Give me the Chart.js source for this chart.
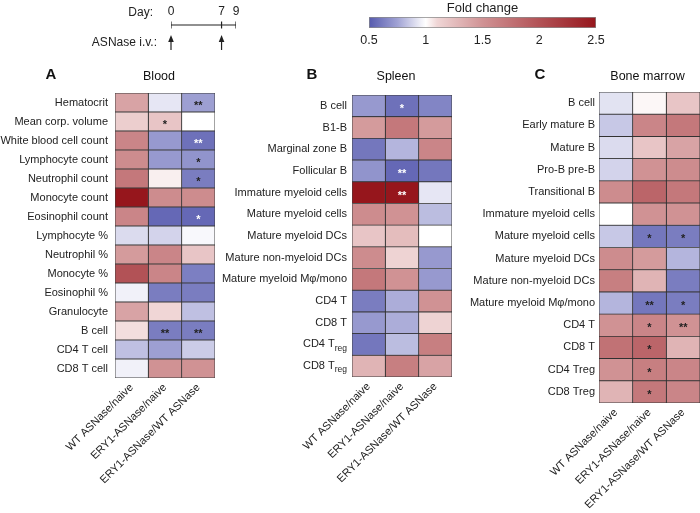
<!DOCTYPE html>
<html><head><meta charset="utf-8">
<script src="https://cdn.jsdelivr.net/npm/chart.js@4.4.1/dist/chart.umd.min.js"></script>
<style>
html,body{margin:0;padding:0;background:#fff;}
#wrap{position:relative;width:700px;height:513px;overflow:hidden;background:#fff;}
canvas{position:absolute;}
</style></head><body>
<div id="wrap">
<canvas id="tl" width="260" height="60" style="left:0px;top:0px;width:260px;height:60px"></canvas>
<canvas id="cb" width="290" height="55" style="left:340px;top:0px;width:290px;height:55px"></canvas>
<canvas id="hA" width="222" height="453" style="left:0px;top:60px;width:222px;height:453px"></canvas>
<canvas id="hB" width="241" height="453" style="left:216px;top:60px;width:241px;height:453px"></canvas>
<canvas id="hC" width="238" height="453" style="left:462px;top:60px;width:238px;height:453px"></canvas>
</div>
<script>
// ---------------- DATA ----------------
const timelineDays = [0, 7, 9];
const injectionDays = [0, 7];
const colorbarTicks = [0.5, 1, 1.5, 2, 2.5];
const colLabels = ["WT ASNase/naive", "ERY1-ASNase/naive", "ERY1-ASNase/WT ASNase"];

const bloodRows = ["Hematocrit","Mean corp. volume","White blood cell count","Lymphocyte count","Neutrophil count","Monocyte count","Eosinophil count","Lymphocyte %","Neutrophil %","Monocyte %","Eosinophil %","Granulocyte","B cell","CD4 T cell","CD8 T cell"];
const bloodWT    = [1.4, 1.15, 1.6, 1.55, 1.7, 2.5, 1.6, 0.9, 1.45, 2.0, 0.96, 1.4, 1.08, 0.83, 0.96];
const bloodERY1  = [0.93, 1.2, 0.72, 0.72, 1.04, 1.55, 0.55, 0.88, 1.6, 1.6, 0.62, 1.1, 0.62, 0.74, 1.5];
const bloodRatio = [0.74, 1.0, 0.58, 0.7, 0.62, 1.55, 0.55, 0.98, 1.2, 0.63, 0.62, 0.83, 0.62, 0.86, 1.5];
const bloodStars = [["","","**"],["","*",""],["","","**"],["","","*"],["","","*"],["","",""],["","","*"],["","",""],["","",""],["","",""],["","",""],["","",""],["","**","**"],["","",""],["","",""]];
const bloodLightStars = [[2,2],[6,2]];

const spleenRows = ["B cell","B1-B","Marginal zone B","Follicular B","Immature myeloid cells","Mature myeloid cells","Mature myeloid DCs","Mature non-myeloid DCs","Mature myeloid M\u03c6/mono","CD4 T","CD8 T","CD4 T_reg","CD8 T_reg"];
const spleenWT    = [0.72, 1.45, 0.6, 0.7, 2.5, 1.55, 1.2, 1.55, 1.7, 0.62, 0.72, 0.6, 1.3];
const spleenERY1  = [0.58, 1.7, 0.8, 0.55, 2.5, 1.5, 1.25, 1.12, 1.5, 0.78, 0.78, 0.82, 1.65];
const spleenRatio = [0.65, 1.45, 1.6, 0.6, 0.93, 0.82, 1.0, 0.72, 0.72, 1.5, 1.12, 1.65, 1.4];
const spleenStars = [["","*",""],["","",""],["","",""],["","**",""],["","**",""],["","",""],["","",""],["","",""],["","",""],["","",""],["","",""],["","",""],["","",""]];
const spleenLightStars = [[0,1],[3,1],[4,1]];

const bmRows = ["B cell","Early mature B","Mature B","Pro-B pre-B","Transitional B","Immature myeloid cells","Mature myeloid cells","Mature myeloid DCs","Mature non-myeloid DCs","Mature myeloid M\u03c6/mono","CD4 T","CD8 T","CD4 Treg","CD8 Treg"];
const bmWT    = [0.92, 0.85, 0.9, 0.88, 1.55, 1.0, 0.85, 1.55, 1.65, 0.8, 1.5, 1.75, 1.5, 1.3];
const bmERY1  = [1.02, 1.6, 1.2, 1.5, 1.85, 1.5, 0.6, 1.45, 1.3, 0.6, 1.6, 1.85, 1.65, 1.7];
const bmRatio = [1.2, 1.7, 1.4, 1.55, 1.7, 1.5, 0.62, 0.8, 0.62, 0.62, 1.5, 1.3, 1.6, 1.6];
const bmStars = [["","",""],["","",""],["","",""],["","",""],["","",""],["","",""],["","*","*"],["","",""],["","",""],["","**","*"],["","*","**"],["","*",""],["","*",""],["","*",""]];
const bmLightStars = [];

// ---------------- STYLE ----------------
const FONT = "'Liberation Sans', Arial, Helvetica, sans-serif";
Chart.defaults.font.family = FONT;
Chart.defaults.color = '#222';
Chart.defaults.animation = false;
Chart.defaults.plugins.legend.display = false;
Chart.defaults.plugins.tooltip.enabled = false;

const colorStops = [
  [0.5, [86, 90, 174]], [0.75, [160, 162, 212]], [0.95, [238, 238, 247]], [1.0, [255, 255, 255]],
  [1.1, [240, 214, 214]], [1.5, [208, 146, 148]], [2.0, [178, 82, 86]], [2.5, [150, 22, 28]]
];
function rgb(c){ return 'rgb(' + c.map(Math.round).join(',') + ')'; }
function foldColor(v){
  if (v <= colorStops[0][0]) return rgb(colorStops[0][1]);
  for (let i = 1; i < colorStops.length; i++){
    const [v1, c1] = colorStops[i];
    if (v <= v1){
      const [v0, c0] = colorStops[i-1];
      const t = (v - v0) / (v1 - v0);
      return rgb(c0.map((x, k) => x + (c1[k] - x) * t));
    }
  }
  return rgb(colorStops[colorStops.length-1][1]);
}

// ---------------- HEATMAPS ----------------
function heatmap(id, rows, cols, stars, lightStars, title, letter, L){
  const panelPlugin = {
    id: 'panel_' + id,
    afterDraw(chart){
      const ctx = chart.ctx, ca = chart.chartArea, ys = chart.scales.y;
      ctx.save();
      ctx.fillStyle = '#111';
      ctx.font = 'bold 15px ' + FONT;
      ctx.textAlign = 'center'; ctx.textBaseline = 'middle';
      ctx.fillText(letter, L.letterX, L.letterY);
      ctx.font = '12.5px ' + FONT;
      ctx.fillText(title, (ca.left + ca.right) / 2 + L.titleDx, L.titleY);
      ctx.fillStyle = '#222';
      ctx.textAlign = 'right';
      rows.forEach((r, i) => {
        const y = ys.getPixelForValue(i);
        const x = ca.left - L.gap;
        const parts = r.split('_');
        if (parts.length > 1){
          ctx.font = '8.5px ' + FONT;
          const w = ctx.measureText(parts[1]).width;
          ctx.fillText(parts[1], x, y + 4);
          ctx.font = '11px ' + FONT;
          ctx.fillText(parts[0], x - w, y);
        } else {
          ctx.font = '11px ' + FONT;
          ctx.fillText(r, x, y);
        }
      });
      ctx.textAlign = 'center';
      ctx.font = 'bold 11px ' + FONT;
      cols.forEach((_, c) => {
        const meta = chart.getDatasetMeta(c);
        meta.data.forEach((el, i) => {
          const s = stars[i][c];
          if (!s) return;
          const light = lightStars.some(p => p[0] === i && p[1] === c);
          const pt = el.getCenterPoint();
          ctx.fillStyle = light ? '#fff' : '#222';
          ctx.fillText(s, pt.x, pt.y + 3);
        });
      });
      ctx.restore();
    }
  };
  return new Chart(document.getElementById(id), {
    type: 'bar',
    data: {
      labels: rows,
      datasets: cols.map((vals, c) => ({
        label: colLabels[c],
        data: vals.map(() => 1),
        backgroundColor: vals.map(foldColor),
        borderColor: 'rgba(40,40,40,0.9)',
        borderWidth: 0.8,
        borderSkipped: false,
        barPercentage: 1,
        categoryPercentage: 1
      }))
    },
    options: {
      responsive: false,
      indexAxis: 'y',
      layout: { padding: { top: L.top, right: L.right, left: 0, bottom: 0 } },
      scales: {
        x: {
          type: 'linear', stacked: true, min: 0, max: 3,
          grid: { display: false, drawTicks: false },
          border: { display: false },
          afterBuildTicks: s => { s.ticks = colLabels.map((_, i) => ({ value: i + 0.5 })); },
          afterFit: s => { s.height = L.xh; },
          ticks: { autoSkip: false, minRotation: 45, maxRotation: 45, padding: L.xpad,
                   font: { size: 11 }, color: '#222', callback: (v, i) => colLabels[i] }
        },
        y: {
          type: 'category', stacked: true,
          grid: { display: false }, border: { display: false },
          ticks: { display: false },
          afterFit: s => { s.width = L.yw; }
        }
      }
    },
    plugins: [panelPlugin]
  });
}

heatmap('hA', bloodRows, [bloodWT, bloodERY1, bloodRatio], bloodStars, bloodLightStars, 'Blood', 'A',
  { yw: 115, right: 7, top: 33, xh: 135, xpad: 3, gap: 7, letterX: 51, letterY: 15, titleY: 17, titleDx: -6 });
heatmap('hB', spleenRows, [spleenWT, spleenERY1, spleenRatio], spleenStars, spleenLightStars, 'Spleen', 'B',
  { yw: 136, right: 5, top: 35, xh: 136, xpad: 3, gap: 5, letterX: 96, letterY: 15, titleY: 17, titleDx: -6 });
heatmap('hC', bmRows, [bmWT, bmERY1, bmRatio], bmStars, bmLightStars, 'Bone marrow', 'C',
  { yw: 137, right: 0, top: 32, xh: 110, xpad: 3, gap: 4, letterX: 78, letterY: 15, titleY: 17, titleDx: -2 });

// ---------------- COLOR BAR ----------------
new Chart(document.getElementById('cb'), {
  type: 'bar',
  data: {
    labels: ['Fold change'],
    datasets: [{
      data: [[colorbarTicks[0], colorbarTicks[colorbarTicks.length - 1]]],
      backgroundColor: (c) => {
        const ch = c.chart;
        if (!ch.chartArea) return '#ccc';
        const xs = ch.scales.x;
        const x0 = xs.getPixelForValue(colorbarTicks[0]);
        const x1 = xs.getPixelForValue(colorbarTicks[colorbarTicks.length - 1]);
        const g = ch.ctx.createLinearGradient(x0, 0, x1, 0);
        const span = colorbarTicks[colorbarTicks.length - 1] - colorbarTicks[0];
        colorStops.forEach(([v, col]) => g.addColorStop((v - colorbarTicks[0]) / span, rgb(col)));
        return g;
      },
      borderColor: '#8a8a8a', borderWidth: 1, borderSkipped: false,
      barPercentage: 1, categoryPercentage: 1
    }]
  },
  options: {
    responsive: false,
    indexAxis: 'y',
    layout: { padding: { top: 17, right: 34, left: 29, bottom: 0 } },
    scales: {
      x: {
        type: 'linear', min: colorbarTicks[0], max: colorbarTicks[colorbarTicks.length - 1],
        grid: { display: false, drawTicks: false }, border: { display: false },
        afterBuildTicks: s => { s.ticks = colorbarTicks.map(v => ({ value: v })); },
        afterFit: s => { s.height = 27; },
        ticks: { padding: 5, font: { size: 12.5 }, color: '#222', maxRotation: 0,
                 callback: v => String(Number(v)) }
      },
      y: { display: false }
    }
  },
  plugins: [{
    id: 'cbTitle',
    afterDraw(chart){
      const ctx = chart.ctx, ca = chart.chartArea;
      ctx.save();
      ctx.fillStyle = '#222';
      ctx.font = '13px ' + FONT;
      ctx.textAlign = 'center'; ctx.textBaseline = 'middle';
      ctx.fillText('Fold change', (ca.left + ca.right) / 2, 8);
      ctx.restore();
    }
  }]
});

// ---------------- TIMELINE ----------------
new Chart(document.getElementById('tl'), {
  type: 'line',
  data: {
    datasets: [{
      data: timelineDays.map(d => ({ x: d, y: 0 })),
      borderColor: '#222', borderWidth: 1.2,
      pointStyle: 'line', rotation: 90, pointRadius: 3.5,
      pointBorderColor: '#222', pointBorderWidth: 1.2
    }]
  },
  options: {
    responsive: false,
    layout: { padding: { top: 0, right: 24, left: 171, bottom: 30 } },
    scales: {
      x: {
        type: 'linear', position: 'top', min: timelineDays[0], max: timelineDays[timelineDays.length - 1],
        grid: { display: false, drawTicks: false }, border: { display: false },
        afterBuildTicks: s => { s.ticks = timelineDays.map(v => ({ value: v })); },
        afterFit: s => { s.height = 20; },
        ticks: { padding: 1, font: { size: 12 }, color: '#222', maxRotation: 0 }
      },
      y: { display: false, min: -1, max: 1 }
    }
  },
  plugins: [{
    id: 'tlDecor',
    afterDraw(chart){
      const ctx = chart.ctx, xs = chart.scales.x;
      ctx.save();
      ctx.fillStyle = '#222';
      ctx.font = '12px ' + FONT;
      ctx.textAlign = 'right'; ctx.textBaseline = 'middle';
      ctx.fillText('Day:', 153, 13);
      ctx.fillText('ASNase i.v.:', 157, 43);
      ctx.strokeStyle = '#222'; ctx.lineWidth = 1.2;
      injectionDays.forEach(d => {
        const x = xs.getPixelForValue(d);
        ctx.beginPath(); ctx.moveTo(x, 50); ctx.lineTo(x, 39); ctx.stroke();
        ctx.beginPath(); ctx.moveTo(x, 35); ctx.lineTo(x - 2.8, 42); ctx.lineTo(x + 2.8, 42); ctx.closePath(); ctx.fill();
      });
      ctx.restore();
    }
  }]
});
</script>
</body></html>
